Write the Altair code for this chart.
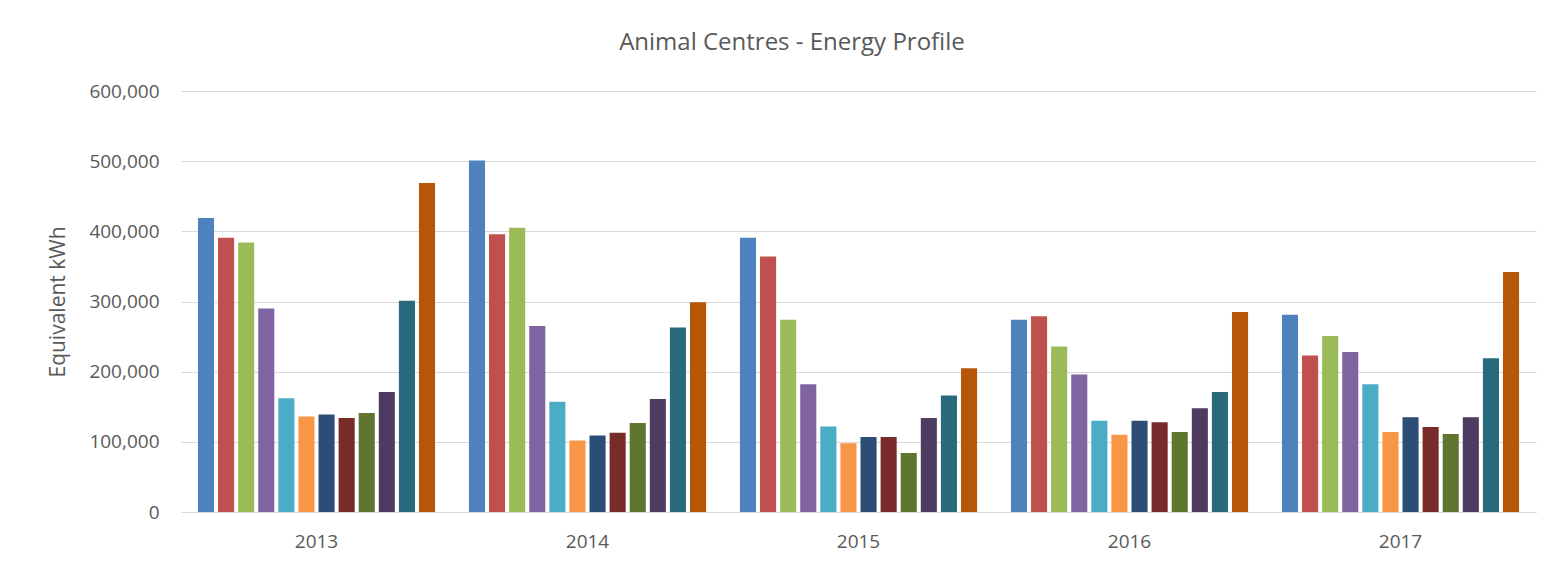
import altair as alt
import pandas as pd

years = ["2013", "2014", "2015", "2016", "2017"]
centres = ["C1", "C2", "C3", "C4", "C5", "C6", "C7", "C8", "C9", "C10", "C11", "C12"]
colors = ["#4F81BD", "#C0504D", "#9BBB59", "#8064A2", "#4BACC6", "#F79646",
          "#2C4D75", "#772C2A", "#5F7530", "#4D3B62", "#276A7C", "#B65708"]

v2013 = [419000, 391000, 384000, 290000, 162000, 136000, 139000, 134000, 141000, 171000, 301000, 469000]
v2014 = [501000, 396000, 405000, 265000, 157000, 102000, 109000, 113000, 127000, 161000, 263000, 299000]
v2015 = [391000, 364000, 274000, 182000, 122000, 98000, 107000, 107000, 84000, 134000, 166000, 205000]
v2016 = [274000, 279000, 236000, 196000, 130000, 110000, 130000, 128000, 114000, 148000, 171000, 285000]
v2017 = [281000, 223000, 251000, 228000, 182000, 114000, 135000, 121000, 111000, 135000, 219000, 342000]

rows = []
for y, vals in zip(years, [v2013, v2014, v2015, v2016, v2017]):
    for c, v in zip(centres, vals):
        rows.append({"Year": y, "Centre": c, "kWh": v})
df = pd.DataFrame(rows)

font = "Open Sans"
chart = alt.Chart(df).mark_bar().encode(
    x=alt.X("Year:N", sort=years,
            scale=alt.Scale(paddingInner=0.125, paddingOuter=0.0625),
            axis=alt.Axis(title=None, labelAngle=0, ticks=False, domainColor="#D9D9D9",
                          labelFontSize=19, labelColor="#595959", labelFont=font,
                          labelPadding=20)),
    xOffset=alt.XOffset("Centre:N", sort=centres, scale=alt.Scale(paddingInner=0.2)),
    y=alt.Y("kWh:Q", scale=alt.Scale(domain=[0, 600000]),
            axis=alt.Axis(title="Equivalent kWh", format=",d", values=[0, 100000, 200000, 300000, 400000, 500000, 600000],
                          domain=False, ticks=False, gridColor="#D9D9D9",
                          labelFontSize=19, labelColor="#595959", labelFont=font,
                          labelPadding=22, titleFontSize=21, titleFontWeight="normal",
                          titleColor="#595959", titleFont=font, titlePadding=20)),
    color=alt.Color("Centre:N", sort=centres, scale=alt.Scale(domain=centres, range=colors), legend=None),
).properties(
    width=1355, height=421,
    title=alt.TitleParams("Animal Centres - Energy Profile", fontSize=24, fontWeight="normal",
                          color="#595959", font=font, offset=27, frame="bounds", anchor="middle"),
    padding={"left": 39, "top": 23, "right": 5, "bottom": 5},
).configure_view(stroke=None)

chart.save("out.html", embed_options={"renderer": "svg", "actions": False})
